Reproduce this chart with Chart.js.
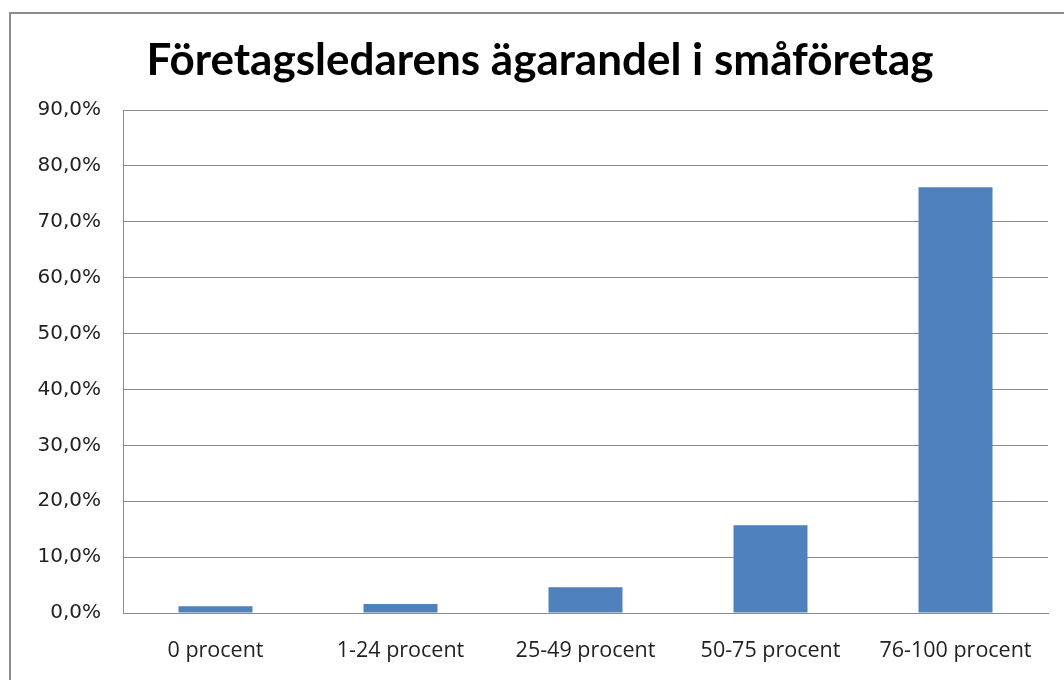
<!DOCTYPE html>
<html>
<head>
<meta charset="utf-8">
<script src="https://cdn.jsdelivr.net/npm/chart.js@4"></script>
<style>
  body { margin: 0; background: #fff; }
  #wrap { width: 1064px; height: 680px; }
</style>
</head>
<body>
<div id="wrap"><canvas id="ownerChart" width="1064" height="680"></canvas></div>
<script>
// Företagsledarens ägarandel i småföretag
const categories = ['0 procent', '1-24 procent', '25-49 procent', '50-75 procent', '76-100 procent'];
const shares = [1.2, 1.6, 4.6, 15.7, 76.2];
const yTicks = [0, 10, 20, 30, 40, 50, 60, 70, 80, 90];

// grey frame around the chart, as in the spreadsheet export
const frame = {
  id: 'frame',
  beforeDraw(chart) {
    const c = chart.ctx;
    c.save();
    c.strokeStyle = '#8c8c8c';
    c.lineWidth = 2;
    c.strokeRect(10, 13, 1200, 800);
    c.restore();
  }
};

const ctx = document.getElementById('ownerChart');
new Chart(ctx, {
  type: 'bar',
  data: {
    labels: categories,
    datasets: [{
      data: shares,
      backgroundColor: '#4F81BD',
      barPercentage: 0.4,
      categoryPercentage: 1
    }]
  },
  options: {
    responsive: false,
    animation: false,
    layout: {
      padding: { left: 16, right: 0, top: 0, bottom: 0 }
    },
    scales: {
      x: {
        grid: { display: false, tickLength: 0 },
        border: { color: '#8c8c8c' },
        ticks: {
          padding: 25,
          color: '#222',
          font: { family: 'Open Sans', size: 21.5 }
        },
        afterFit(axis) { axis.height = 67; }
      },
      y: {
        min: 0,
        max: 90,
        afterBuildTicks(axis) {
          axis.ticks = yTicks.map(v => ({ value: v }));
        },
        grid: { color: '#8c8c8c', tickLength: 0 },
        border: { color: '#8c8c8c' },
        ticks: {
          padding: 22,
          color: '#222',
          font: { family: 'DejaVu Sans', size: 20 },
          callback: v => v.toFixed(1).replace('.', ',') + '%'
        },
        afterFit(axis) { axis.width = 107; }
      },
      // empty strip on the right so the plot stops before the frame edge
      spacer: {
        position: 'right',
        grid: { display: false },
        border: { display: false },
        ticks: { display: false },
        afterFit(axis) { axis.width = 16; }
      }
    },
    plugins: {
      legend: { display: false },
      tooltip: { enabled: false },
      title: {
        display: true,
        text: 'Företagsledarens ägarandel i småföretag',
        color: '#000',
        font: { family: 'Lato', size: 44, weight: 'bold', lineHeight: 1.2 },
        padding: { top: 34, bottom: 23.2 }
      }
    }
  },
  plugins: [frame]
});
</script>
</body>
</html>
